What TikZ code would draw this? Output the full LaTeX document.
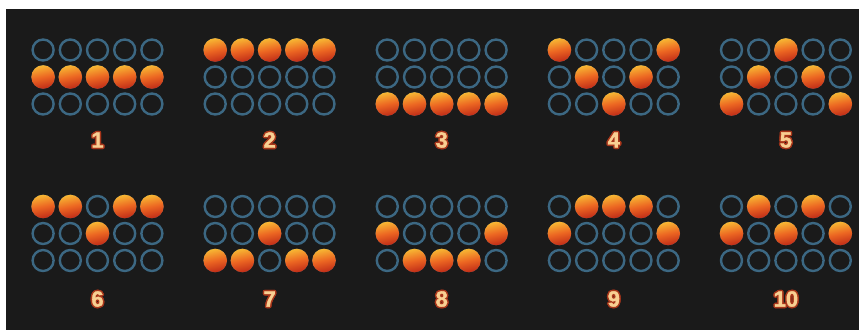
\documentclass[tikz,border=0pt]{standalone}
\usepackage{fontspec}
\setmainfont{Liberation Sans}
\newfontfamily\lblfont[FakeBold=1.6]{Liberation Sans Bold}
\definecolor{bgc}{HTML}{1A1A1A}
\definecolor{slotc}{HTML}{3C6883}
\definecolor{balltop}{HTML}{F7B733}
\definecolor{ballmid}{HTML}{EC6622}
\definecolor{ballbot}{HTML}{BF2C18}
\definecolor{lblin}{HTML}{F8CF92}
\definecolor{lblout}{HTML}{A9361A}
\tikzset{
  slot/.style={circle, draw=slotc, line width=2.4pt, minimum size=21pt, inner sep=0pt},
  ball/.style={circle, minimum size=23.6pt, inner sep=0pt, top color=balltop, bottom color=ballbot, middle color=ballmid, shading angle=12},
  lbl/.style={inner sep=0pt, font=\lblfont\fontsize{22}{22}\selectfont},
}
\begin{document}
\begin{tikzpicture}[x=1pt,y=-1pt]
\fill[white] (0,0) rectangle (859,330);
\fill[bgc] (6,9) rectangle (859,330);
\useasboundingbox (0,0) rectangle (859,330);
\foreach \g/\k/\band/\cells in {
  1/0/0/{2/1,2/2,2/3,2/4,2/5},
  2/1/0/{1/1,1/2,1/3,1/4,1/5},
  3/2/0/{3/1,3/2,3/3,3/4,3/5},
  4/3/0/{1/1,1/5,2/2,2/4,3/3},
  5/4/0/{1/3,2/2,2/4,3/1,3/5},
  6/0/1/{1/1,1/2,1/4,1/5,2/3},
  7/1/1/{2/3,3/1,3/2,3/4,3/5},
  8/2/1/{2/1,2/5,3/2,3/3,3/4},
  9/3/1/{1/2,1/3,1/4,2/1,2/5},
  10/4/1/{1/2,1/4,2/1,2/3,2/5}} {
  \pgfmathsetmacro{\cx}{97.5+172.1*\k}
  \pgfmathsetmacro{\ty}{\band==0 ? 50 : 206.5}
  \pgfmathsetmacro{\ly}{\band==0 ? 140 : 299}
  \foreach \r in {1,2,3} {
    \foreach \c in {1,...,5} {
      \node[slot] (s\g-\r-\c) at ({\cx+27.2*(\c-3)},{\ty+27*(\r-1)}) {};
    }
  }
  \foreach \r/\c in \cells {
    \node[ball] (b\g-\r-\c) at (s\g-\r-\c) {};
  }
  \coordinate (lc\g) at (\cx,\ly);
  \foreach \a in {0,45,...,315} {
    \path (lc\g) ++(\a:1.5) node[lbl, text=lblout] (o\g-\a) {\g};
  }
  \node[lbl, text=lblin] (l\g) at (lc\g) {\g};
}
\end{tikzpicture}
\end{document}
